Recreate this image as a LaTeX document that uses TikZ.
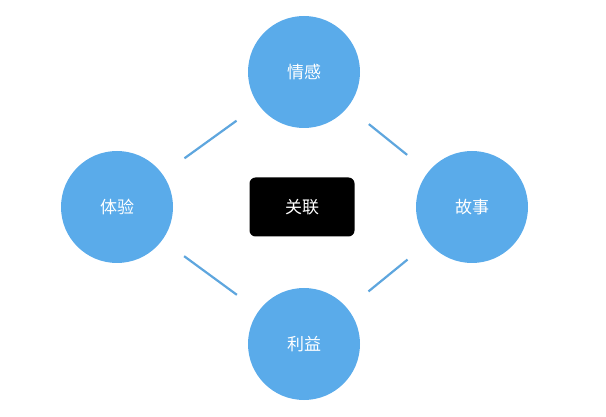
\documentclass[tikz,border=0pt]{standalone}
\usepackage{fontspec}
\newfontfamily\cjk{Noto Sans CJK SC}
\begin{document}
\begin{tikzpicture}[x=1pt,y=-1pt,
  bub/.style={circle,fill=circ,minimum size=112pt,inner sep=0pt,text=white,font=\cjk\fontsize{17}{20}\selectfont},
  link/.style={draw=lnk,line width=2.2pt,shorten >=27pt,shorten <=27pt}]
\definecolor{circ}{HTML}{5AABEA}
\definecolor{lnk}{HTML}{5EA6DE}
\useasboundingbox (0,0) rectangle (606,417);
\node[bub] (t) at (304,72) {情感};
\node[bub] (l) at (117,207) {体验};
\node[bub] (r) at (472,207) {故事};
\node[bub] (b) at (304,344) {利益};
\node[fill=black,rounded corners=6pt,minimum width=105pt,minimum height=59pt,text=white,font=\cjk\fontsize{17}{20}\selectfont] (c) at (302,207) {关联};
\draw[link] (t) -- (l);
\draw[link] (t) -- (r);
\draw[link] (b) -- (l);
\draw[link] (b) -- (r);
\end{tikzpicture}
\end{document}
